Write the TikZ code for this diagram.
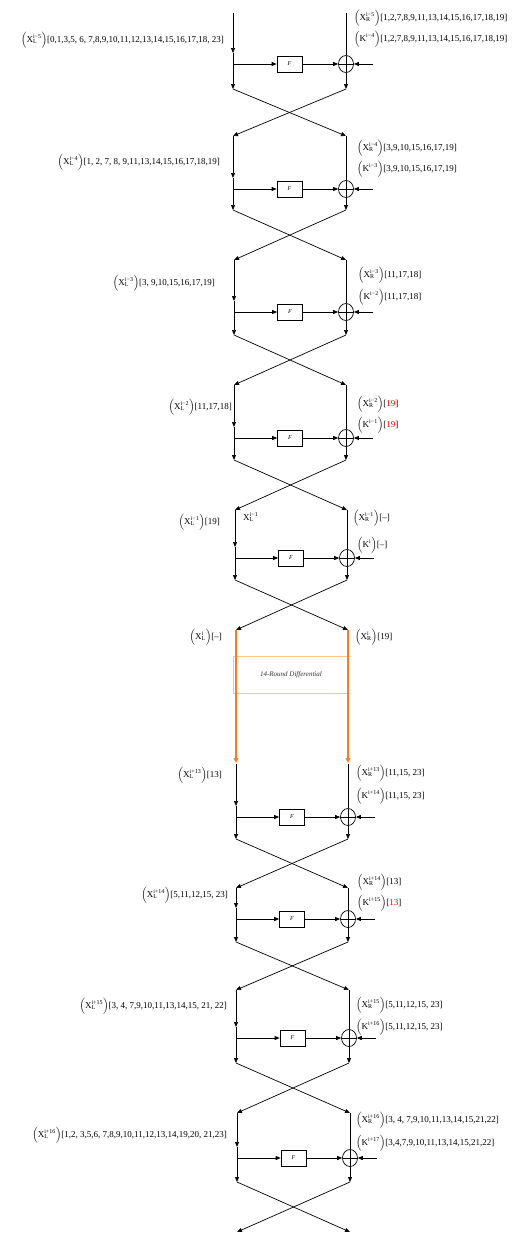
\documentclass[tikz,border=0pt]{standalone}
\usepackage{amsmath}
\usepackage{fontspec}
\setmainfont{Liberation Serif}
\usetikzlibrary{arrows.meta,shapes.geometric}
\definecolor{orng}{RGB}{255,122,30}
\definecolor{lorng}{RGB}{255,200,130}
\newcommand{\XL}[1]{$\Bigl(\text{X}^{\text{#1}}_{\text{L}}\Bigr)$}
\newcommand{\XR}[1]{$\Bigl(\text{X}^{\text{#1}}_{\text{R}}\Bigr)$}
\newcommand{\KK}[1]{$\Bigl(\text{K}^{\text{#1}}\Bigr)$}
\tikzset{
 ln/.style={line width=0.7pt},
 arr/.style={ln,-{Triangle[length=5pt,width=4pt]}},
 oarr/.style={line width=1.2pt,draw=orng,-{Triangle[length=5pt,width=4.5pt,fill=orng]}},
 fbox/.style={draw,ln,minimum width=25pt,minimum height=16pt,inner sep=0pt,font=\fontsize{6}{7}\selectfont\itshape},
 xor/.style={draw,ln,ellipse,minimum width=15pt,minimum height=17pt,inner sep=0pt,
   path picture={\draw[ln] (path picture bounding box.north)--(path picture bounding box.south)
   (path picture bounding box.west)--(path picture bounding box.east);}},
 lab/.style={font=\fontsize{9}{10}\selectfont,inner sep=0pt},
 diffbox/.style={draw=lorng,line width=0.8pt,fill=white,minimum width=115pt,minimum height=37pt,inner sep=0pt,
   font=\fontsize{7}{8}\selectfont\itshape,text=black!80},
}
\newcommand{\feistel}[6]{%
 \coordinate (#1tl) at (#2,#4);
 \coordinate (#1tr) at (#3,#4);
 \coordinate (#1m) at (#2,#5-11);
 \coordinate (#1b) at (#2,#5);
 \coordinate (#1bl) at (#2,#6);
 \coordinate (#1br) at (#3,#6);
 \node[fbox] (#1F) at ({(#2+#3)/2},#5) {F};
 \node[xor] (#1X) at (#3,#5) {};
 \coordinate (#1k) at (#3+27,#5);
 \draw[arr] (#1tl) -- (#1m);
 \draw[arr] (#1m) -- (#1bl);
 \draw[arr] (#1b) -- (#1F);
 \draw[arr] (#1F) -- (#1X);
 \draw[arr] (#1k) -- (#1X);
 \draw[ln] (#1tr) -- (#1X);
 \draw[arr] (#1X) -- (#1br);
}
\begin{document}
\begin{tikzpicture}[x=1pt,y=-1pt]
\useasboundingbox (0,0) rectangle (527,1234);
\feistel{ra}{233}{346}{13}{64}{89}
\feistel{rb}{233}{346}{136}{189}{210}
\feistel{rc}{234}{346}{260}{312}{335}
\feistel{rd}{234}{346}{385}{438}{460}
\feistel{re}{235}{347}{510}{558}{580}
% orange 14-round part
\coordinate (otl) at (236,630);
\coordinate (otr) at (348,630);
\coordinate (obl) at (236,763);
\coordinate (obr) at (348,763);
\node[diffbox] (diff) at (291,674.5) {14-Round Differential};
\draw[oarr] (otl) -- (obl);
\draw[oarr] (otr) -- (obr);
\feistel{rf}{236}{348}{764}{817}{839}
\feistel{rg}{236}{348}{888}{919}{942}
\feistel{rh}{236}{349}{990}{1038}{1063}
\feistel{ri}{237}{350}{1113}{1158}{1182}
\coordinate (endl) at (237,1232);
\coordinate (endr) at (350,1232);
% crossings
\draw[arr] (rabl) -- (rbtr); \draw[arr] (rabr) -- (rbtl);
\draw[arr] (rbbl) -- (rctr); \draw[arr] (rbbr) -- (rctl);
\draw[arr] (rcbl) -- (rdtr); \draw[arr] (rcbr) -- (rdtl);
\draw[arr] (rdbl) -- (retr); \draw[arr] (rdbr) -- (retl);
\draw[arr] (rebl) -- (otr); \draw[arr] (rebr) -- (otl);
\draw[arr] (rfbl) -- (rgtr); \draw[arr] (rfbr) -- (rgtl);
\draw[arr] (rgbl) -- (rhtr); \draw[arr] (rgbr) -- (rhtl);
\draw[arr] (rhbl) -- (ritr); \draw[arr] (rhbr) -- (ritl);
\draw[arr] (ribl) -- (endr); \draw[arr] (ribr) -- (endl);
% labels
\node[lab,anchor=east] (l1) at (224,40) {\XL{i−5}[0,1,3,5, 6, 7,8,9,10,11,12,13,14,15,16,17,18, 23]};
\node[lab,anchor=west] (r1a) at (354,18) {\XR{i−5}[1,2,7,8,9,11,13,14,15,16,17,18,19]};
\node[lab,anchor=west] (r1b) at (354,39) {\KK{i−4}[1,2,7,8,9,11,13,14,15,16,17,18,19]};
\node[lab,anchor=east] (l2) at (220,162) {\XL{i−4}[1, 2, 7, 8, 9,11,13,14,15,16,17,18,19]};
\node[lab,anchor=west] (r2a) at (357,148) {\XR{i−4}[3,9,10,15,16,17,19]};
\node[lab,anchor=west] (r2b) at (357,169) {\KK{i−3}[3,9,10,15,16,17,19]};
\node[lab,anchor=east] (l3) at (215,283) {\XL{i−3}[3, 9,10,15,16,17,19]};
\node[lab,anchor=west] (r3a) at (358,275) {\XR{i−3}[11,17,18]};
\node[lab,anchor=west] (r3b) at (358,297) {\KK{i−2}[11,17,18]};
\node[lab,anchor=east] (l4) at (232,407) {\XL{i−2}[11,17,18]};
\node[lab,anchor=west] (r4a) at (357,404) {\XR{i−2}[{\color{red}19}]};
\node[lab,anchor=west] (r4b) at (357,425) {\KK{i−1}[{\color{red}19}]};
\node[lab,anchor=east] (l5) at (220,522) {\XL{i−1}[19]};
\node[lab,anchor=west] (l5s) at (243,517) {$\text{X}^{\text{i−1}}_{\text{L}}$};
\node[lab,anchor=west] (r5a) at (353,518) {\XR{i−1}[–]};
\node[lab,anchor=west] (r5b) at (357,545) {\KK{i}[–]};
\node[lab,anchor=east] (l6) at (222,637) {\XL{i}[–]};
\node[lab,anchor=west] (r6a) at (355,637) {\XR{i}[19]};
\node[lab,anchor=east] (l7) at (222,775) {\XL{i+13}[13]};
\node[lab,anchor=west] (r7a) at (356,773) {\XR{i+13}[11,15, 23]};
\node[lab,anchor=west] (r7b) at (356,796) {\KK{i+14}[11,15, 23]};
\node[lab,anchor=east] (l8) at (228,895) {\XL{i+14}[5,11,12,15, 23]};
\node[lab,anchor=west] (r8a) at (357,882) {\XR{i+14}[13]};
\node[lab,anchor=west] (r8b) at (357,903) {\KK{i+15}[{\color{red}13}]};
\node[lab,anchor=east] (l9) at (227,1006) {\XL{i+15}[3, 4, 7,9,10,11,13,14,15, 21, 22]};
\node[lab,anchor=west] (r9a) at (356,1005) {\XR{i+15}[5,11,12,15, 23]};
\node[lab,anchor=west] (r9b) at (356,1027) {\KK{i+16}[5,11,12,15, 23]};
\node[lab,anchor=east] (l10) at (227,1135) {\XL{i+16}[1,2, 3,5,6, 7,8,9,10,11,12,13,14,19,20, 21,23]};
\node[lab,anchor=west] (r10a) at (356,1120) {\XR{i+16}[3, 4, 7,9,10,11,13,14,15,21,22]};
\node[lab,anchor=west] (r10b) at (356,1143) {\KK{i+17}[3,4,7,9,10,11,13,14,15,21,22]};
\end{tikzpicture}
\end{document}
